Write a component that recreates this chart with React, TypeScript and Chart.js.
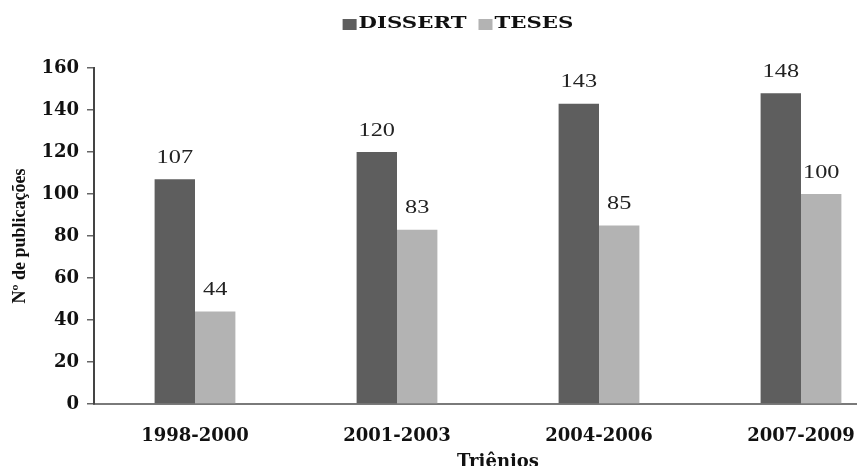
import React, { useEffect, useRef } from "react";
import { Chart, registerables } from "chart.js";

Chart.register(...registerables);

const triennia = ["1998-2000", "2001-2003", "2004-2006", "2007-2009"];
const dissertacoes = [107, 120, 143, 148];
const teses = [44, 83, 85, 100];
const seriesNames = ["DISSERT", "TESES"];
const seriesColors = ["#5e5e5e", "#b3b3b3"];
const yTicks = [0, 20, 40, 60, 80, 100, 120, 140, 160];

const CANVAS_W = 916;
const CANVAS_H = 466;

// Legend drawn at the top, centred on the canvas, with slightly widened lettering
const legendPlugin = {
  id: "topLegend",
  afterDraw(chart: any) {
    const ctx = chart.ctx as CanvasRenderingContext2D;
    const sx = 1.25;
    ctx.save();
    ctx.font = "bold 17px 'DejaVu Serif'";
    ctx.textBaseline = "middle";
    const box = 14;
    const gap = 2;
    const between = 12;
    const widths = seriesNames.map((n) => ctx.measureText(n).width * sx);
    const total = widths.reduce((a, w) => a + box + gap + w, 0) + between;
    let x = chart.width / 2 - total / 2;
    const cy = 24;
    seriesNames.forEach((name, i) => {
      ctx.fillStyle = seriesColors[i];
      ctx.fillRect(x, cy - 5, box, 11);
      x += box + gap;
      ctx.fillStyle = "#111";
      ctx.save();
      ctx.translate(x, cy);
      ctx.scale(sx, 1);
      ctx.fillText(name, 0, 0);
      ctx.restore();
      x += widths[i] + between;
    });
    ctx.restore();
  },
};

// Value labels above each bar
const valueLabelPlugin = {
  id: "valueLabels",
  afterDatasetsDraw(chart: any) {
    const ctx = chart.ctx as CanvasRenderingContext2D;
    ctx.save();
    ctx.font = "18px 'Liberation Serif'";
    ctx.textAlign = "center";
    ctx.textBaseline = "middle";
    ctx.fillStyle = "#222";
    chart.data.datasets.forEach((ds: any, di: number) => {
      const meta = chart.getDatasetMeta(di);
      meta.data.forEach((bar: any, i: number) => {
        const v = ds.data[i];
        ctx.save();
        ctx.translate(bar.x, bar.y - 21);
        ctx.scale(1.35, 1);
        ctx.fillText(String(v), 0, 0);
        ctx.restore();
      });
    });
    ctx.restore();
  },
};

export default function App() {
  const canvasRef = useRef<HTMLCanvasElement | null>(null);

  useEffect(() => {
    document.body.style.margin = "0";
    const canvas = canvasRef.current;
    if (!canvas) return;
    const chart = new Chart(canvas, {
      type: "bar",
      data: {
        labels: triennia,
        datasets: [
          {
            label: seriesNames[0],
            data: dissertacoes,
            backgroundColor: seriesColors[0],
            categoryPercentage: 0.4,
            barPercentage: 1.0,
          },
          {
            label: seriesNames[1],
            data: teses,
            backgroundColor: seriesColors[1],
            categoryPercentage: 0.4,
            barPercentage: 1.0,
          },
        ],
      },
      options: {
        responsive: false,
        animation: false,
        devicePixelRatio: 1,
        layout: { padding: { top: 68, right: 14, left: 0, bottom: 0 } },
        plugins: {
          legend: { display: false },
          tooltip: { enabled: false },
        },
        scales: {
          x: {
            grid: { display: false },
            border: { display: true, color: "#7a7a7a", width: 2 },
            ticks: {
              padding: 14,
              color: "#111",
              font: { family: "'DejaVu Serif'", weight: "bold", size: 18 },
              maxRotation: 0,
            },
            title: {
              display: true,
              text: "Triênios",
              color: "#111",
              font: { family: "'DejaVu Serif'", weight: "bold", size: 18, lineHeight: 1 },
              padding: { top: 0, bottom: -5 },
            },
            afterFit(scale: any) {
              scale.height = 62;
            },
          },
          y: {
            min: 0,
            max: 160,
            afterBuildTicks(scale: any) {
              scale.ticks = yTicks.map((v) => ({ value: v }));
            },
            grid: {
              display: true,
              drawOnChartArea: false,
              drawTicks: true,
              tickLength: 7,
              color: "#666",
              lineWidth: 1.5,
            },
            border: { display: true, color: "#444", width: 2 },
            ticks: {
              padding: 8,
              color: "#111",
              font: { family: "'DejaVu Serif'", weight: "bold", size: 18 },
            },
            title: {
              display: true,
              text: "Nº de publicações",
              color: "#111",
              font: { family: "'Liberation Serif'", weight: "bold", size: 18 },
              padding: { top: 10, bottom: 0 },
            },
            afterFit(scale: any) {
              scale.width = 94;
            },
          },
        },
      },
      plugins: [legendPlugin, valueLabelPlugin],
    });
    return () => chart.destroy();
  }, []);

  return (
    <div style={{ width: 857, height: 466, overflow: "hidden", background: "#fff" }}>
      <canvas
        ref={canvasRef}
        width={CANVAS_W}
        height={CANVAS_H}
        style={{ display: "block", width: CANVAS_W, height: CANVAS_H }}
      />
    </div>
  );
}
